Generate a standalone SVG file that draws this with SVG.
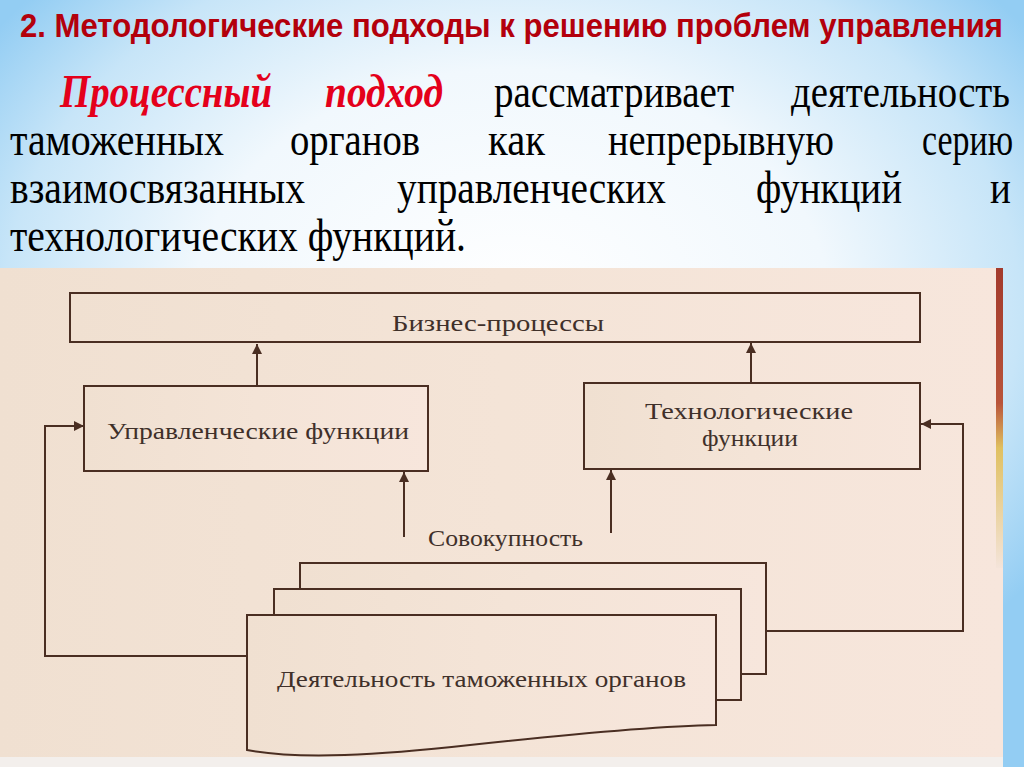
<svg xmlns="http://www.w3.org/2000/svg" width="1024" height="767" viewBox="0 0 1024 767">
<defs>
<radialGradient id="bg" cx="50%" cy="40%" r="62%">
<stop offset="0" stop-color="#ffffff"/>
<stop offset="0.5" stop-color="#f1f8fd"/>
<stop offset="0.8" stop-color="#c7e5f8"/>
<stop offset="1" stop-color="#93cdf3"/>
</radialGradient>
<linearGradient id="paper" x1="0" y1="0" x2="1" y2="0">
<stop offset="0" stop-color="#f0e0d1"/>
<stop offset="0.5" stop-color="#f4e4d7"/>
<stop offset="1" stop-color="#f7e6dc"/>
</linearGradient>
<linearGradient id="edge" x1="0" y1="0" x2="0" y2="1">
<stop offset="0" stop-color="#a33a2c"/>
<stop offset="0.45" stop-color="#b9543a"/>
<stop offset="0.6" stop-color="#e0c060"/>
<stop offset="1" stop-color="#f4e4da"/>
</linearGradient>
<marker id="ah" viewBox="0 0 10 10" refX="10" refY="5" markerWidth="11" markerHeight="10" markerUnits="userSpaceOnUse" orient="auto">
<path d="M0,0 L10,5 L0,10 Z" fill="#4a2e22"/>
</marker>
<style>
.title{font-family:"Liberation Sans","DejaVu Sans",sans-serif;font-weight:bold;font-size:30px;fill:#b3000c}
.body{font-family:"Liberation Serif","DejaVu Serif",serif;font-size:39px;fill:#000}
.em{font-weight:bold;font-style:italic;fill:#e4001b}
.box{fill:url(#paper);stroke:#4a2e22;stroke-width:2}
.lbl{font-family:"Liberation Serif","DejaVu Serif",serif;font-size:24px;fill:#3f302a}
.conn{fill:none;stroke:#4a2e22;stroke-width:2}
</style>
</defs>
<rect x="0" y="0" width="1024" height="767" fill="url(#bg)"/>
<g transform="scale(1,1.13)">
<text class="title" x="20" y="32.7" textLength="983" lengthAdjust="spacingAndGlyphs">2. Методологические подходы к решению проблем управления</text>
</g>
<g id="paragraph" class="body" transform="scale(1,1.2)">
<text x="60" y="89.2" class="em" textLength="212" lengthAdjust="spacingAndGlyphs">Процессный</text>
<text x="325" y="89.2" class="em" textLength="118" lengthAdjust="spacingAndGlyphs">подход</text>
<text x="494" y="89.2" textLength="240" lengthAdjust="spacingAndGlyphs">рассматривает</text>
<text x="1010" y="89.2" text-anchor="end" textLength="219" lengthAdjust="spacingAndGlyphs">деятельность</text>
<text x="10" y="129.2" textLength="214" lengthAdjust="spacingAndGlyphs">таможенных</text>
<text x="290" y="129.2" textLength="130" lengthAdjust="spacingAndGlyphs">органов</text>
<text x="488" y="129.2" textLength="57" lengthAdjust="spacingAndGlyphs">как</text>
<text x="608" y="129.2" textLength="226" lengthAdjust="spacingAndGlyphs">непрерывную</text>
<text transform="translate(922,129.2) scale(0.87,1)" x="0" y="0">серию</text>
<text x="10" y="169.2" textLength="295" lengthAdjust="spacingAndGlyphs">взаимосвязанных</text>
<text x="397" y="169.2" textLength="269" lengthAdjust="spacingAndGlyphs">управленческих</text>
<text x="756" y="169.2" textLength="146" lengthAdjust="spacingAndGlyphs">функций</text>
<text x="1011" y="169.2" text-anchor="end">и</text>
<text x="10" y="209.2" textLength="456" lengthAdjust="spacingAndGlyphs">технологических функций.</text>
</g>
<rect x="0" y="268" width="1003" height="490" fill="url(#paper)"/>
<rect x="996" y="268" width="7" height="300" fill="url(#edge)"/>
<rect x="0" y="757" width="1003" height="10" fill="#f3efec"/>
<g id="connectors">
<line class="conn" x1="257" y1="386" x2="257" y2="344" marker-end="url(#ah)"/>
<line class="conn" x1="751" y1="383" x2="751" y2="343" marker-end="url(#ah)"/>
<line class="conn" x1="404" y1="537" x2="404" y2="472" marker-end="url(#ah)"/>
<line class="conn" x1="611" y1="533" x2="611" y2="470" marker-end="url(#ah)"/>
<path class="conn" d="M248,656 H45 V426 H84" marker-end="url(#ah)"/>
<path class="conn" d="M766,631 H963 V424 H921" marker-end="url(#ah)"/>
</g>
<g id="business">
<rect class="box" x="70" y="293" width="850" height="49"/>
<text class="lbl" x="392" y="331" textLength="212" lengthAdjust="spacingAndGlyphs">Бизнес-процессы</text>
</g>
<g id="management">
<rect class="box" x="84" y="386" width="344" height="85"/>
<text class="lbl" x="107" y="439" textLength="302" lengthAdjust="spacingAndGlyphs">Управленческие функции</text>
</g>
<g id="technology">
<rect class="box" x="584" y="383" width="336" height="86"/>
<text class="lbl" x="645" y="419" textLength="208" lengthAdjust="spacingAndGlyphs">Технологические</text>
<text class="lbl" x="702" y="446" textLength="96" lengthAdjust="spacingAndGlyphs">функции</text>
</g>
<g id="aggregate">
<text class="lbl" x="428" y="546" textLength="155" lengthAdjust="spacingAndGlyphs">Совокупность</text>
<rect class="box" x="300" y="563" width="466" height="111"/>
<rect class="box" x="274" y="589" width="467" height="111"/>
<path class="box" d="M247,615 H716 V725 C660,726 580,733 470,745 C380,755 300,760 247,750 Z"/>
<text class="lbl" x="277" y="687" textLength="409" lengthAdjust="spacingAndGlyphs">Деятельность таможенных органов</text>
</g>
</svg>
